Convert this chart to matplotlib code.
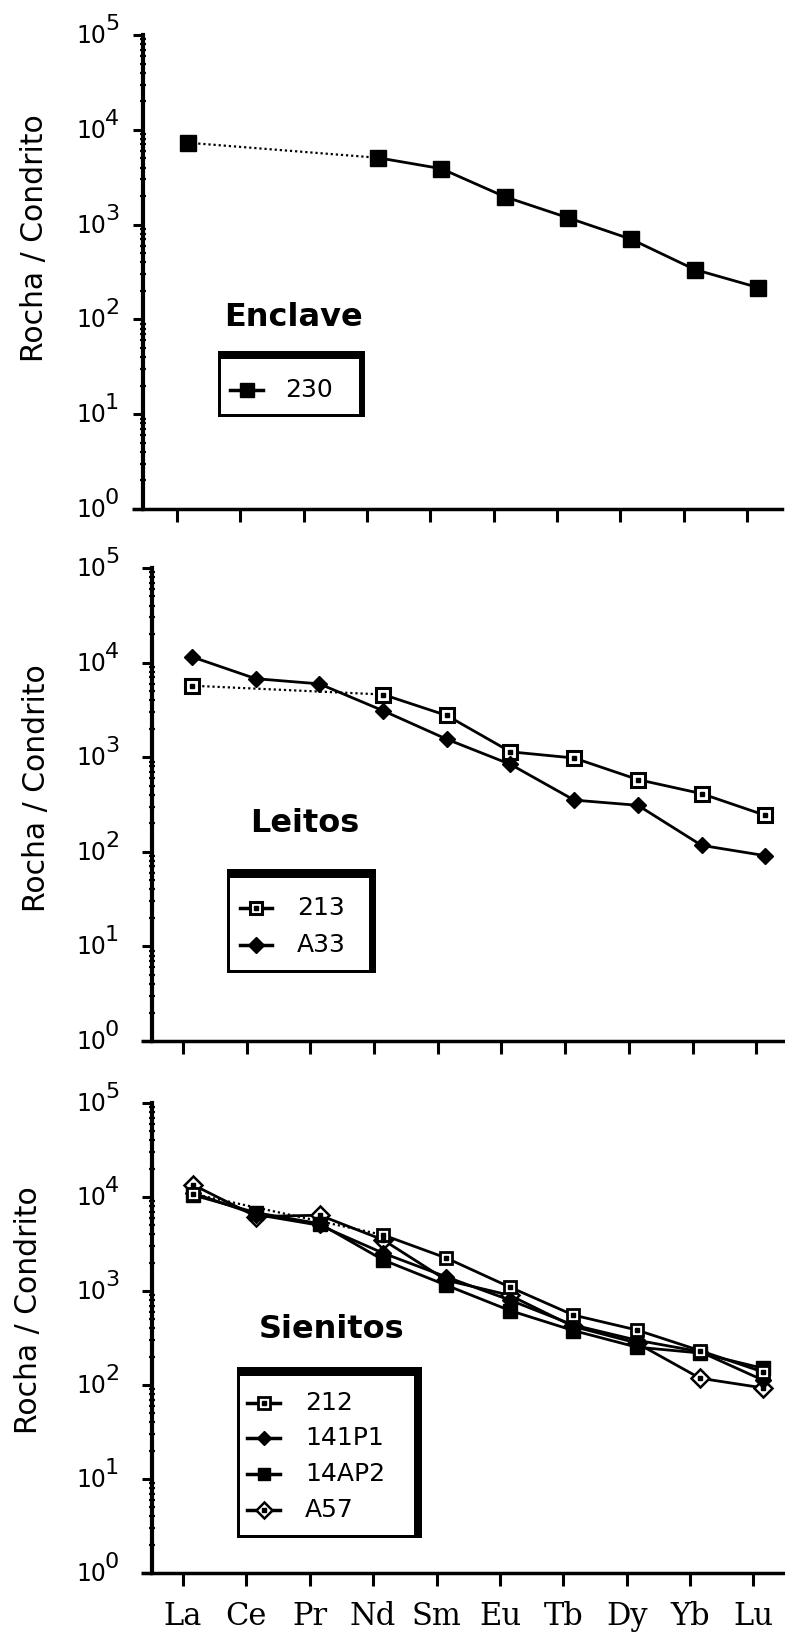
import numpy as np
import matplotlib
matplotlib.use("Agg")
import matplotlib.pyplot as plt
from matplotlib.lines import Line2D
from matplotlib.patches import Rectangle
from matplotlib.ticker import LogLocator, NullFormatter, FixedLocator

# ---------------- data ----------------
elements = ["La", "Ce", "Pr", "Nd", "Sm", "Eu", "Tb", "Dy", "Yb", "Lu"]
nan = np.nan
# Enclave
s230 = [7300, nan, nan, 5070, 3890, 1970, 1180, 700, 336, 217]
# Leitos
s213 = [5700, nan, nan, 4600, 2760, 1140, 980, 580, 412, 243]
sA33 = [11500, 6760, 5960, 3100, 1550, 840, 352, 310, 117, 91]
# Sienitos
s212 = [10800, nan, nan, 3950, 2240, 1100, 555, 385, 232, 137]
s141P1 = [11000, 6500, 5000, 2530, 1410, 800, 435, 300, 226, 112]
s14AP2 = [10500, 6800, 5200, 2140, 1150, 620, 380, 253, 219, 150]
sA57 = [13500, 6200, 6400, 3500, 1300, 900, 420, 280, 118, 93]

panel_titles = ["Enclave", "Leitos", "Sienitos"]
ylabel = "Rocha / Condrito"

W, H = 785, 1639
fig = plt.figure(figsize=(W / 100, H / 100), dpi=100)
fig.patch.set_facecolor("white")


def fx(x):
    return x / W


def fy(y):
    return 1 - y / H


# axes geometry in pixels: left, right, top, bottom, xlim0, xlim1, tick offset
geo = [
    (143, 782, 35, 509, -0.711, 9.379, -0.174),
    (152, 785, 568, 1041, -0.628, 9.31, -0.141),
    (152, 785, 1103, 1573, -0.645, 9.34, -0.157),
]

# marker styles
STY = {
    "230": dict(marker="s", ms=11, mfc="k", mec="k", mew=1, dot=False),
    "213": dict(marker="s", ms=10, mfc="white", mec="k", mew=2.2, dot=True),
    "A33": dict(marker="D", ms=8.5, mfc="k", mec="k", mew=1, dot=False),
    "212": dict(marker="s", ms=9, mfc="white", mec="k", mew=2.0, dot=True),
    "141P1": dict(marker="D", ms=8, mfc="k", mec="k", mew=1, dot=False),
    "14AP2": dict(marker="s", ms=10, mfc="k", mec="k", mew=1, dot=False),
    "A57": dict(marker="D", ms=9, mfc="white", mec="k", mew=1.8, dot=True),
}

panel_series = [
    [("230", s230)],
    [("213", s213), ("A33", sA33)],
    [("A57", sA57), ("14AP2", s14AP2), ("141P1", s141P1), ("212", s212)],
]

legend_geo = [
    # box L, T, R, B, top thickness, right thickness, entries (name, y), marker line x0,x1, text x
    (218, 351, 365, 417, 8, 6, [("230", 390)], 230, 263, 285),
    (227, 869, 376, 973, 9, 7, [("213", 908), ("A33", 945)], 240, 272, 297),
    (237, 1367, 422, 1538, 9, 8,
     [("212", 1403), ("141P1", 1438), ("14AP2", 1474), ("A57", 1510)], 247, 280, 305),
]

title_pos = [(293, 318), (305, 824), (332, 1330)]
ylabel_pos = [(35, 238), (37, 788), (29, 1310)]

x = np.arange(len(elements))

for p in range(3):
    L, R, T, B, x0, x1, toff = geo[p]
    ax = fig.add_axes([fx(L), fy(B), (R - L) / W, (B - T) / H])
    ax.set_facecolor("none")
    ax.set_yscale("log")
    ax.set_ylim(1, 1e5)
    ax.set_xlim(x0, x1)
    for s in ["top", "right"]:
        ax.spines[s].set_visible(False)
    ax.spines["left"].set_linewidth(3)
    ax.spines["bottom"].set_linewidth(2.5)
    ax.yaxis.set_major_locator(FixedLocator([10.0 ** k for k in range(6)]))
    ax.yaxis.set_minor_locator(LogLocator(base=10, subs=np.arange(2, 10), numticks=20))
    ax.yaxis.set_major_formatter(NullFormatter())
    ax.yaxis.set_minor_formatter(NullFormatter())
    ax.tick_params(axis="y", which="major", direction="out", length=7, width=2.2)
    ax.tick_params(axis="y", which="minor", direction="inout", length=5, width=1.6)
    ax.set_xticks(x + toff)
    if p == 2:
        ax.set_xticklabels(elements, fontfamily="DejaVu Serif", fontsize=22)
    else:
        ax.set_xticklabels([])
    ax.tick_params(axis="x", direction="out", length=9, width=2.2, pad=11)
    # x-axis stub left of the y axis
    ax.plot([-11.0 / (R - L), 0], [0, 0], transform=ax.transAxes, color="k",
            lw=2.5, clip_on=False, solid_capstyle="butt")

    for name, vals in panel_series[p]:
        y = np.array(vals, dtype=float)
        st = STY[name]
        ax.plot(x, y, color="k", lw=2.0, marker=st["marker"], ms=st["ms"],
                mfc=st["mfc"], mec=st["mec"], mew=st["mew"], zorder=3)
        idx = np.where(~np.isnan(y))[0]
        for a, b in zip(idx[:-1], idx[1:]):
            if b - a > 1:
                ax.plot([x[a], x[b]], [y[a], y[b]], color="k", lw=1.6,
                        ls=(0, (1, 1.3)), zorder=2)
        if st["dot"]:
            ax.plot(x, y, ls="none", marker="s", ms=2.4, color="k", zorder=4)

    # y tick labels 10^k
    for k in range(6):
        ypx = B - k * (B - T) / 5.0
        fig.text(fx(106), fy(ypx + 1), "10", ha="right", va="center", fontsize=17,
                 fontfamily="DejaVu Sans")
        fig.text(fx(105), fy(ypx - 11), str(k), ha="left", va="center",
                 fontsize=16, fontfamily="DejaVu Sans")

    # y label
    fig.text(fx(ylabel_pos[p][0]), fy(ylabel_pos[p][1]), ylabel, rotation=90,
             ha="center", va="center", fontsize=21.5, fontfamily="DejaVu Sans")

    # panel title
    fig.text(fx(title_pos[p][0]), fy(title_pos[p][1]), panel_titles[p],
             ha="center", va="center", fontsize=23, fontweight="bold",
             fontfamily="DejaVu Sans")

    # legend box (thick top/right border like a shadow)
    bl, bt, br, bb, tt, rt, entries, mx0, mx1, tx = legend_geo[p]
    fig.patches.append(Rectangle((fx(bl), fy(bb)), (br - bl) / W, (bb - bt) / H,
                                 transform=fig.transFigure, facecolor="k",
                                 edgecolor="none", zorder=5))
    fig.patches.append(Rectangle((fx(bl + 3), fy(bb - 3)), (br - rt - bl - 3) / W,
                                 (bb - 3 - bt - tt) / H, transform=fig.transFigure,
                                 facecolor="white", edgecolor="none", zorder=6))
    for name, ey in entries:
        st = STY[name]
        fig.add_artist(Line2D([fx(mx0), fx(mx1)], [fy(ey), fy(ey)],
                              transform=fig.transFigure, color="k", lw=2.5, zorder=7))
        fig.add_artist(Line2D([fx((mx0 + mx1) / 2)], [fy(ey)], transform=fig.transFigure,
                              ls="none", marker=st["marker"], ms=st["ms"] * 0.9,
                              mfc=st["mfc"], mec=st["mec"], mew=st["mew"], zorder=8))
        if st["dot"]:
            fig.add_artist(Line2D([fx((mx0 + mx1) / 2)], [fy(ey)], transform=fig.transFigure,
                                  ls="none", marker="s", ms=2.2, color="k", zorder=9))
        fig.text(fx(tx), fy(ey), name, ha="left", va="center", fontsize=18,
                 fontfamily="DejaVu Sans", zorder=9)

fig.savefig("out.png", dpi=100, facecolor="white")
